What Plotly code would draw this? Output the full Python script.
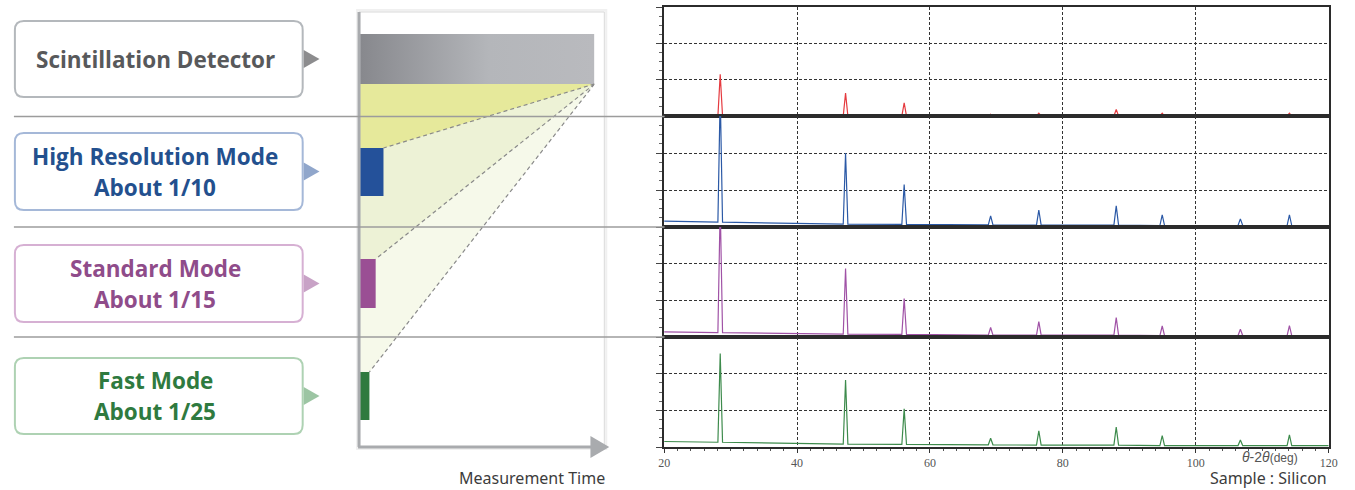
import plotly.graph_objects as go

# ---------------- data ----------------
modes = ["Scintillation Detector", "High Resolution Mode", "Standard Mode", "Fast Mode"]
speed_labels = ["", "About 1/10", "About 1/15", "About 1/25"]
time_ratio = [1.0, 1 / 10, 1 / 15, 1 / 25]

peak_pos = [28.44, 47.30, 56.12, 69.13, 76.38, 88.03, 94.95, 106.71, 114.09]
sc_peaks = [1.15, 0.63, 0.36, 0.05, 0.08, 0.18, 0.08, 0.03, 0.08]
hr_peaks = [3.60, 2.00, 1.15, 0.30, 0.46, 0.57, 0.33, 0.22, 0.33]
std_peaks = [3.60, 1.87, 1.05, 0.26, 0.42, 0.53, 0.30, 0.21, 0.31]
fast_peaks = [2.55, 1.83, 1.04, 0.24, 0.44, 0.54, 0.31, 0.19, 0.33]
# background: start, under each peak, end
sc_bg = [0.0, 0.0, 0.0, 0.0, 0.0, 0.0, 0.0, 0.0, 0.0, 0.0, 0.0]
hr_bg = [0.16, 0.13, 0.08, 0.07, 0.06, 0.05, 0.05, 0.04, 0.04, 0.04, 0.04]
std_bg = [0.14, 0.12, 0.08, 0.07, 0.05, 0.05, 0.05, 0.04, 0.04, 0.04, 0.04]
fast_bg = [0.15, 0.13, 0.08, 0.07, 0.06, 0.05, 0.05, 0.04, 0.04, 0.04, 0.04]
x_ticks = [20, 40, 60, 80, 100, 120]

W, H = 1355, 490
text_colors = ["#58595b", "#23508e", "#8f4c8a", "#2f7a3f"]
border_colors = ["#b4b8bc", "#a5b8d8", "#d6b0d3", "#aed2b3"]
arrow_colors = ["#8c8c8e", "#90a6cb", "#c8a2c6", "#9cc5a3"]
bar_colors = ["#9a9b9f", "#24519a", "#9a4f94", "#2f7a3f"]
line_colors = ["#e53a3f", "#2b59a6", "#a052a6", "#3d8b4c"]

fig = go.Figure()

# background pixel axes
fig.update_layout(
    xaxis=dict(range=[0, W], domain=[0, 1], visible=False, fixedrange=True),
    yaxis=dict(range=[H, 0], domain=[0, 1], visible=False, fixedrange=True),
)

shapes = []
annotations = []


def rrect(x0, y0, x1, y1, r):
    return (f"M{x0+r},{y0} L{x1-r},{y0} Q{x1},{y0} {x1},{y0+r} L{x1},{y1-r} "
            f"Q{x1},{y1} {x1-r},{y1} L{x0+r},{y1} Q{x0},{y1} {x0},{y1-r} "
            f"L{x0},{y0+r} Q{x0},{y0} {x0+r},{y0} Z")


# ---- left label boxes ----
box_rows = [(21, 97), (133, 210), (245, 322), (358, 434)]
for i, (t, b) in enumerate(box_rows):
    shapes.append(dict(type="path", xref="x", yref="y", path=rrect(9, t, 300, b, 9),
                       line=dict(color=border_colors[i], width=2), fillcolor="white"))
    cy = (t + b) / 2
    shapes.append(dict(type="path", xref="x", yref="y",
                       path=f"M301,{cy-9} L317,{cy} L301,{cy+9} Z",
                       line=dict(width=0), fillcolor=arrow_colors[i]))
    if speed_labels[i]:
        lines = [(modes[i], cy - 15.5), (speed_labels[i], cy + 15.5)]
    else:
        lines = [(modes[i], cy)]
    for txt, yy in lines:
        annotations.append(dict(x=151, y=yy, xref="x", yref="y", text=f"<b>{txt}</b>",
                                showarrow=False, xanchor="center", yanchor="middle",
                                font=dict(family="Open Sans", size=22.5, color=text_colors[i])))

# ---- middle panel ----
shapes.append(dict(type="rect", xref="x", yref="y", x0=355, x1=607, y0=10, y1=449,
                   line=dict(color="#f0f0f0", width=2), fillcolor="#f6f6f6", layer="below"))
shapes.append(dict(type="rect", xref="x", yref="y", x0=357, x1=605, y0=12, y1=447,
                   line=dict(color="#dadada", width=1), fillcolor="white", layer="below"))

# middle time axis: x6 maps 0..1 to pixels 358..595
x6_dom = [358 / W, 595 / W]
fig.update_layout(xaxis6=dict(range=[0, 1], domain=x6_dom, anchor="y", visible=False,
                              fixedrange=True))

bar_rows = [(34, 84), (148, 196), (259, 308), (372, 420)]
fill_colors = ["#f6f9ea", "#edf2d6", "#e6e99b"]
b0 = bar_rows[0][1]
# fills from the detector bar end down to each mode bar top (lightest first)
for k, i in enumerate([3, 2, 1]):
    top = bar_rows[i][0]
    shapes.append(dict(type="path", xref="x6", yref="y", layer="below",
                       path=f"M0,{b0} L{time_ratio[0]},{b0} L{time_ratio[i]},{top} L0,{top} Z",
                       line=dict(width=0), fillcolor=fill_colors[k]))

# detector bar with gradient
t0 = bar_rows[0][0]
fig.add_trace(go.Scatter(
    x=[0, time_ratio[0], time_ratio[0], 0, 0], y=[t0, t0, b0, b0, t0],
    xaxis="x6", yaxis="y", mode="lines", line=dict(width=0), fill="toself",
    fillcolor="#a5a6aa",
    fillgradient=dict(type="horizontal",
                      colorscale=[[0, "#87888d"], [0.55, "#b4b6ba"], [1, "#b9babe"]]),
    hoverinfo="skip", showlegend=False))

# mode bars
fig.add_trace(go.Bar(
    y=[(t + b) / 2 for t, b in bar_rows[1:]], x=time_ratio[1:], base=0,
    width=[b - t for t, b in bar_rows[1:]], orientation="h",
    xaxis="x6", yaxis="y", marker=dict(color=bar_colors[1:], line=dict(width=0)),
    hoverinfo="skip", showlegend=False))

# dashed connector lines
for i in range(1, 4):
    shapes.append(dict(type="line", xref="x6", yref="y", x0=time_ratio[0], y0=b0,
                       x1=time_ratio[i], y1=bar_rows[i][0],
                       line=dict(color="#8a8a8a", width=1.2, dash="4px,3px"), layer="above"))

# axes of the middle panel
shapes.append(dict(type="line", xref="x", yref="y", x0=357, y0=12, x1=357, y1=447,
                   line=dict(color="#a9abae", width=3), layer="above"))
shapes.append(dict(type="line", xref="x", yref="y", x0=356, y0=447, x1=594, y1=447,
                   line=dict(color="#a9abae", width=3), layer="above"))
shapes.append(dict(type="path", xref="x", yref="y", path="M591,436 L610,447 L591,458 Z",
                   line=dict(width=0), fillcolor="#a9abae", layer="above"))
annotations.append(dict(x=608, y=478, xref="x", yref="y", text="Measurement Time",
                        showarrow=False, xanchor="right", yanchor="middle",
                        font=dict(family="Noto Sans", size=16, color="#3c3c3c")))

# separators
for ysep in [116.5, 227, 337]:
    shapes.append(dict(type="line", xref="x", yref="y", x0=8, x1=666, y0=ysep, y1=ysep,
                       line=dict(color="#9c9c9c", width=1.3), layer="above"))

# ---- spectra panels ----
panels = [(7, 116), (116, 227), (227, 337), (337, 447)]
series = [(sc_peaks, sc_bg), (hr_peaks, hr_bg), (std_peaks, std_bg), (fast_peaks, fast_bg)]
xd = [665.5 / W, 1337.5 / W]
for i, (t, b) in enumerate(panels):
    n = i + 2
    last = i == 3
    fig.update_layout(**{
        f"xaxis{n}": dict(domain=xd, range=[20, 120], anchor=f"y{n}", tickvals=x_ticks,
                          showticklabels=last, ticks="outside" if last else "",
                          ticklen=4, tickcolor="#333",
                          minor=dict(dtick=2, ticks="outside" if last else "", ticklen=2,
                                     tickcolor="#555", showgrid=False),
                          showgrid=True, gridcolor="#333", gridwidth=1, griddash="3px,2px",
                          showline=True, mirror=True, linecolor="#2b2b2b", linewidth=2,
                          zeroline=False, fixedrange=True,
                          tickfont=dict(family="Liberation Sans Narrow", size=12, color="#555")),
        f"yaxis{n}": dict(domain=[1 - b / H, 1 - t / H], range=[0, 3], anchor=f"x{n}",
                          dtick=1, showticklabels=False, ticks="outside", ticklen=6,
                          tickcolor="#444",
                          minor=dict(dtick=0.25, ticks="outside", ticklen=3, tickcolor="#666",
                                     showgrid=False),
                          showgrid=True, gridcolor="#333", gridwidth=1, griddash="3px,2px",
                          showline=True, mirror=True, linecolor="#2b2b2b", linewidth=2,
                          zeroline=False, fixedrange=True),
    })
    heights, bg = series[i]
    xs, ys = [20], [bg[0]]
    for p, h, bb in zip(peak_pos, heights, bg[1:-1]):
        xs += [p - 0.35, p, p + 0.35]
        ys += [bb, h, bb]
    xs.append(120)
    ys.append(bg[-1])
    fig.add_trace(go.Scatter(x=xs, y=ys, xaxis=f"x{n}", yaxis=f"y{n}", mode="lines",
                             line=dict(color=line_colors[i], width=1.2),
                             hoverinfo="skip", showlegend=False))

annotations.append(dict(x=1278, y=457, xref="x", yref="y",
                        text="<i>θ</i>-2<i>θ</i><span style='font-size:12px'>(deg)</span>",
                        showarrow=False, xanchor="center", yanchor="middle",
                        font=dict(family="Liberation Sans", size=14, color="#555")))
annotations.append(dict(x=1338, y=478, xref="x", yref="y", text="Sample : Silicon",
                        showarrow=False, xanchor="right", yanchor="middle",
                        font=dict(family="Noto Sans", size=16, color="#3c3c3c")))

fig.update_layout(width=W, height=H, margin=dict(l=0, r=0, t=0, b=0),
                  paper_bgcolor="white", plot_bgcolor="rgba(0,0,0,0)",
                  shapes=shapes, annotations=annotations, showlegend=False,
                  barmode="overlay")

fig.write_html("out.html", config={"displayModeBar": False},
               post_script="document.body.style.margin='0';"
                           "document.body.style.overflow='hidden';")
